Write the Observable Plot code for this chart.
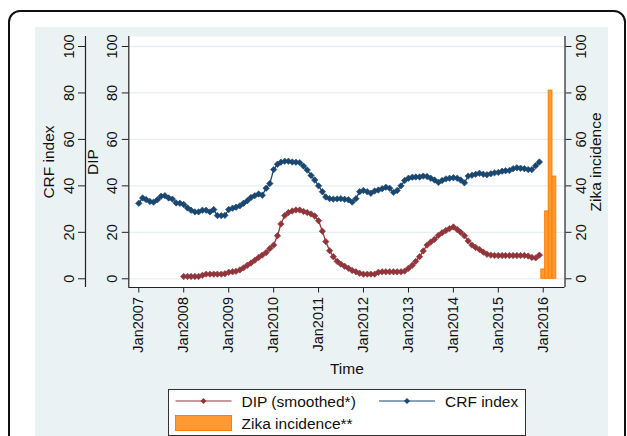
<!DOCTYPE html>
<html><head><meta charset="utf-8">
<script src="https://cdn.jsdelivr.net/npm/d3@7"></script>
<script src="https://cdn.jsdelivr.net/npm/@observablehq/plot@0.6"></script>
<style>
html,body{margin:0;padding:0;background:#fff;width:627px;height:436px;overflow:hidden;font-family:"Liberation Sans",Arial,sans-serif;}
#frame{position:absolute;left:8px;top:10px;width:618px;height:470px;border:2px solid #111;border-radius:12px;box-sizing:border-box;}
#bg{position:absolute;left:35px;top:27px;width:573px;height:409px;background:#eaf2f3;}
#chart{position:absolute;left:0;top:0;}
#legend{position:absolute;left:168px;top:389px;width:358px;height:47px;background:#fff;border:1px solid #333;box-sizing:border-box;}
</style></head>
<body>
<div id="frame"></div><div id="bg"></div><div id="chart"></div><div id="legend"></div>
<script>
// ---- data ----
const yearTicks = [2007, 2008, 2009, 2010, 2011, 2012, 2013, 2014, 2015, 2016];
const yTicks = [0, 20, 40, 60, 80, 100];
// CRF index, monthly Jan2007 - Dec2015
const crfIndex = [
  32.5, 34.8, 34.1, 33.3, 33.0, 34.0, 35.5, 35.8, 34.8, 34.3, 32.6, 32.5,
  32.0, 30.5, 29.5, 28.8, 28.8, 29.5, 29.5, 28.8, 29.8, 27.2, 27.2, 27.3,
  29.8, 30.4, 30.8, 31.4, 32.5, 33.6, 35.0, 35.8, 36.5, 36.0, 39.0, 41.0,
  47.0, 49.3, 50.2, 50.6, 50.6, 50.3, 50.2, 50.0, 48.5, 46.8, 44.5, 42.5,
  40.0, 37.5, 35.2, 34.5, 34.3, 34.4, 34.5, 34.2, 34.0, 33.0, 34.5, 37.5,
  38.0, 37.5, 36.8, 37.8, 38.2, 38.8, 39.4, 39.0, 37.2, 38.0, 40.0, 42.3,
  43.3, 43.7, 43.8, 43.8, 44.2, 44.0, 43.3, 42.5, 41.5, 42.3, 43.0, 43.3,
  43.5, 43.3, 42.5, 41.3, 44.2, 44.6, 45.0, 45.4, 45.0, 44.8, 45.2, 45.6,
  45.8, 46.3, 46.5, 46.6, 47.4, 47.8, 47.6, 47.4, 47.0, 47.0, 48.7, 50.3
];
// DIP (smoothed), monthly Jan2008 - Dec2015
const dipSmoothed = [
  1.0, 1.0, 1.0, 1.0, 1.0, 1.5, 2.0, 2.0, 2.0, 2.0, 2.0, 2.2,
  2.8, 3.0, 3.2, 3.8, 4.7, 5.8, 6.8, 8.0, 9.2, 10.2, 11.3, 13.0,
  14.5, 18.5, 23.6, 27.2, 28.5, 29.2, 29.6, 29.6, 29.0, 28.5, 27.9, 27.0,
  25.0, 20.5, 16.0, 12.1, 9.5, 7.5, 6.3, 5.4, 4.5, 3.6, 3.0, 2.4,
  2.0, 2.0, 2.0, 2.0, 2.8, 3.0, 3.0, 3.0, 3.0, 3.0, 3.0, 3.3,
  4.5, 5.8, 7.5, 9.5, 12.0, 14.5, 15.8, 17.0, 18.7, 19.8, 20.8, 21.6,
  22.3, 21.2, 20.0, 18.5, 16.3, 14.5, 13.5, 12.6, 11.5, 10.6, 10.2, 10.0,
  10.0, 10.0, 10.0, 10.0, 10.0, 10.0, 10.0, 10.0, 9.8, 9.2, 9.0, 10.2
];
// Zika incidence, months of 2016
const zikaMonths = [1, 2, 3, 4];
const zikaIncidence = [4, 29, 81, 44];

const seriesNames = ["DIP (smoothed*)", "CRF index", "Zika incidence**"];
const dipColor = "#90353b", crfColor = "#1a476f", zikaFill = "#ff9933", zikaStroke = "#ff8000";

// ---- build ----
const DAY = 864e5, MONTH = 365.25 / 12 * DAY;
const crfData = crfIndex.map((v, i) => ({date: new Date(Date.UTC(2007, i, 1)), v}));
const dipData = dipSmoothed.map((v, i) => ({date: new Date(Date.UTC(2008, i, 1)), v}));
const zikaData = zikaMonths.map((m, i) => {
  const c = Date.UTC(2016, m - 1, 1);
  return {x1: new Date(c - MONTH / 2), x2: new Date(c + MONTH / 2), v: zikaIncidence[i]};
});
const xDomain = [new Date(Date.UTC(2007, 0, 1) - 2.67 * MONTH), new Date(Date.UTC(2016, 0, 1) + 5.82 * MONTH)];
const yDomain = [-3.75, 104.3];
const xTicks = yearTicks.map(y => new Date(Date.UTC(y, 0, 1)));
const axisColor = "#222";
const font = '"Liberation Sans", Arial, sans-serif';

const plot = Plot.plot({
  width: 627, height: 436,
  marginLeft: 128.3, marginRight: 62.5, marginTop: 36, marginBottom: 149,
  style: {background: "transparent", fontFamily: font, fontSize: "14.5px", color: "#111"},
  x: {type: "utc", domain: xDomain},
  y: {domain: yDomain},
  marks: [
    Plot.frame({fill: "white", stroke: null}),
    Plot.gridY(yTicks, {stroke: "#e6eff1", strokeOpacity: 1, strokeWidth: 1.3}),
    Plot.rectY(zikaData, {x1: "x1", x2: "x2", y: "v", fill: zikaFill, stroke: zikaStroke, strokeWidth: 1}),
    Plot.line(dipData, {x: "date", y: "v", stroke: dipColor, strokeWidth: 1.3}),
    Plot.dot(dipData, {x: "date", y: "v", symbol: "diamond2", r: 2.9, fill: dipColor, stroke: dipColor, strokeWidth: 0.6}),
    Plot.line(crfData, {x: "date", y: "v", stroke: crfColor, strokeWidth: 1.3}),
    Plot.dot(crfData, {x: "date", y: "v", symbol: "diamond2", r: 2.9, fill: crfColor, stroke: crfColor, strokeWidth: 0.6}),
    // axis lines
    Plot.ruleX([xDomain[0]], {stroke: axisColor, strokeWidth: 1.2, dx: -43.3}),
    Plot.ruleX([xDomain[0]], {stroke: axisColor, strokeWidth: 1.2}),
    Plot.ruleX([xDomain[1]], {stroke: axisColor, strokeWidth: 1.2}),
    Plot.ruleY([yDomain[0]], {stroke: axisColor, strokeWidth: 1.2}),
    // y axes
    Plot.axisY({ticks: yTicks, anchor: "left", dx: -43.3, tickSize: 7, tickPadding: 5, tickRotate: -90, stroke: axisColor, fill: "#111", label: null}),
    Plot.axisY({ticks: yTicks, anchor: "left", tickSize: 6.5, tickPadding: 5, tickRotate: -90, stroke: axisColor, fill: "#111", label: null}),
    Plot.axisY({ticks: yTicks, anchor: "right", tickSize: 6, tickPadding: 5, tickRotate: -90, lineAnchor: "top", stroke: axisColor, fill: "#111", label: null}),
    // x axis
    Plot.axisX({ticks: xTicks, tickFormat: d => "Jan" + d.getUTCFullYear(), tickSize: 5.5, tickPadding: 4, tickRotate: -90, stroke: axisColor, fill: "#111", label: null}),
    // axis titles
    Plot.text(["CRF index"], {frameAnchor: "left", dx: -79.8, rotate: -90, textAnchor: "middle", lineAnchor: "middle", fontSize: 15.5, fill: "#111"}),
    Plot.text(["DIP"], {frameAnchor: "left", dx: -35.3, rotate: -90, textAnchor: "middle", lineAnchor: "middle", fontSize: 15.5, fill: "#111"}),
    Plot.text(["Zika incidence"], {frameAnchor: "right", dx: 31.5, rotate: -90, textAnchor: "middle", lineAnchor: "middle", fontSize: 15.5, fill: "#111"}),
    Plot.text(["Time"], {frameAnchor: "bottom", dy: 82, textAnchor: "middle", lineAnchor: "middle", fontSize: 15.5, fill: "#111"})
  ]
});
document.getElementById("chart").appendChild(plot);

// ---- legend ----
const ns = "http://www.w3.org/2000/svg";
const lg = document.createElementNS(ns, "svg");
lg.setAttribute("width", 356); lg.setAttribute("height", 45);
lg.style.position = "absolute"; lg.style.left = "0"; lg.style.top = "0";
function el(tag, attrs) { const e = document.createElementNS(ns, tag); for (const k in attrs) e.setAttribute(k, attrs[k]); lg.appendChild(e); return e; }
const items = [
  {name: seriesNames[0], kind: "line", color: dipColor, x: 6.5, y: 11},
  {name: seriesNames[1], kind: "line", color: crfColor, x: 210, y: 11},
  {name: seriesNames[2], kind: "bar", x: 6.5, y: 33}
];
for (const it of items) {
  if (it.kind === "line") {
    el("line", {x1: it.x, x2: it.x + 56, y1: it.y, y2: it.y, stroke: it.color, "stroke-width": 1.2});
    const cx = it.x + 28, r = 3;
    el("path", {d: `M${cx},${it.y - r}L${cx + r},${it.y}L${cx},${it.y + r}L${cx - r},${it.y}Z`, fill: it.color});
  } else {
    el("rect", {x: it.x, y: it.y - 7.5, width: 56, height: 15, fill: zikaFill, stroke: zikaStroke, "stroke-width": 1});
  }
  const t = el("text", {x: it.x + 66, y: it.y + 5.5, "font-family": font, "font-size": 15.5, fill: "#111"});
  t.textContent = it.name;
}
document.getElementById("legend").appendChild(lg);
</script></body></html>
